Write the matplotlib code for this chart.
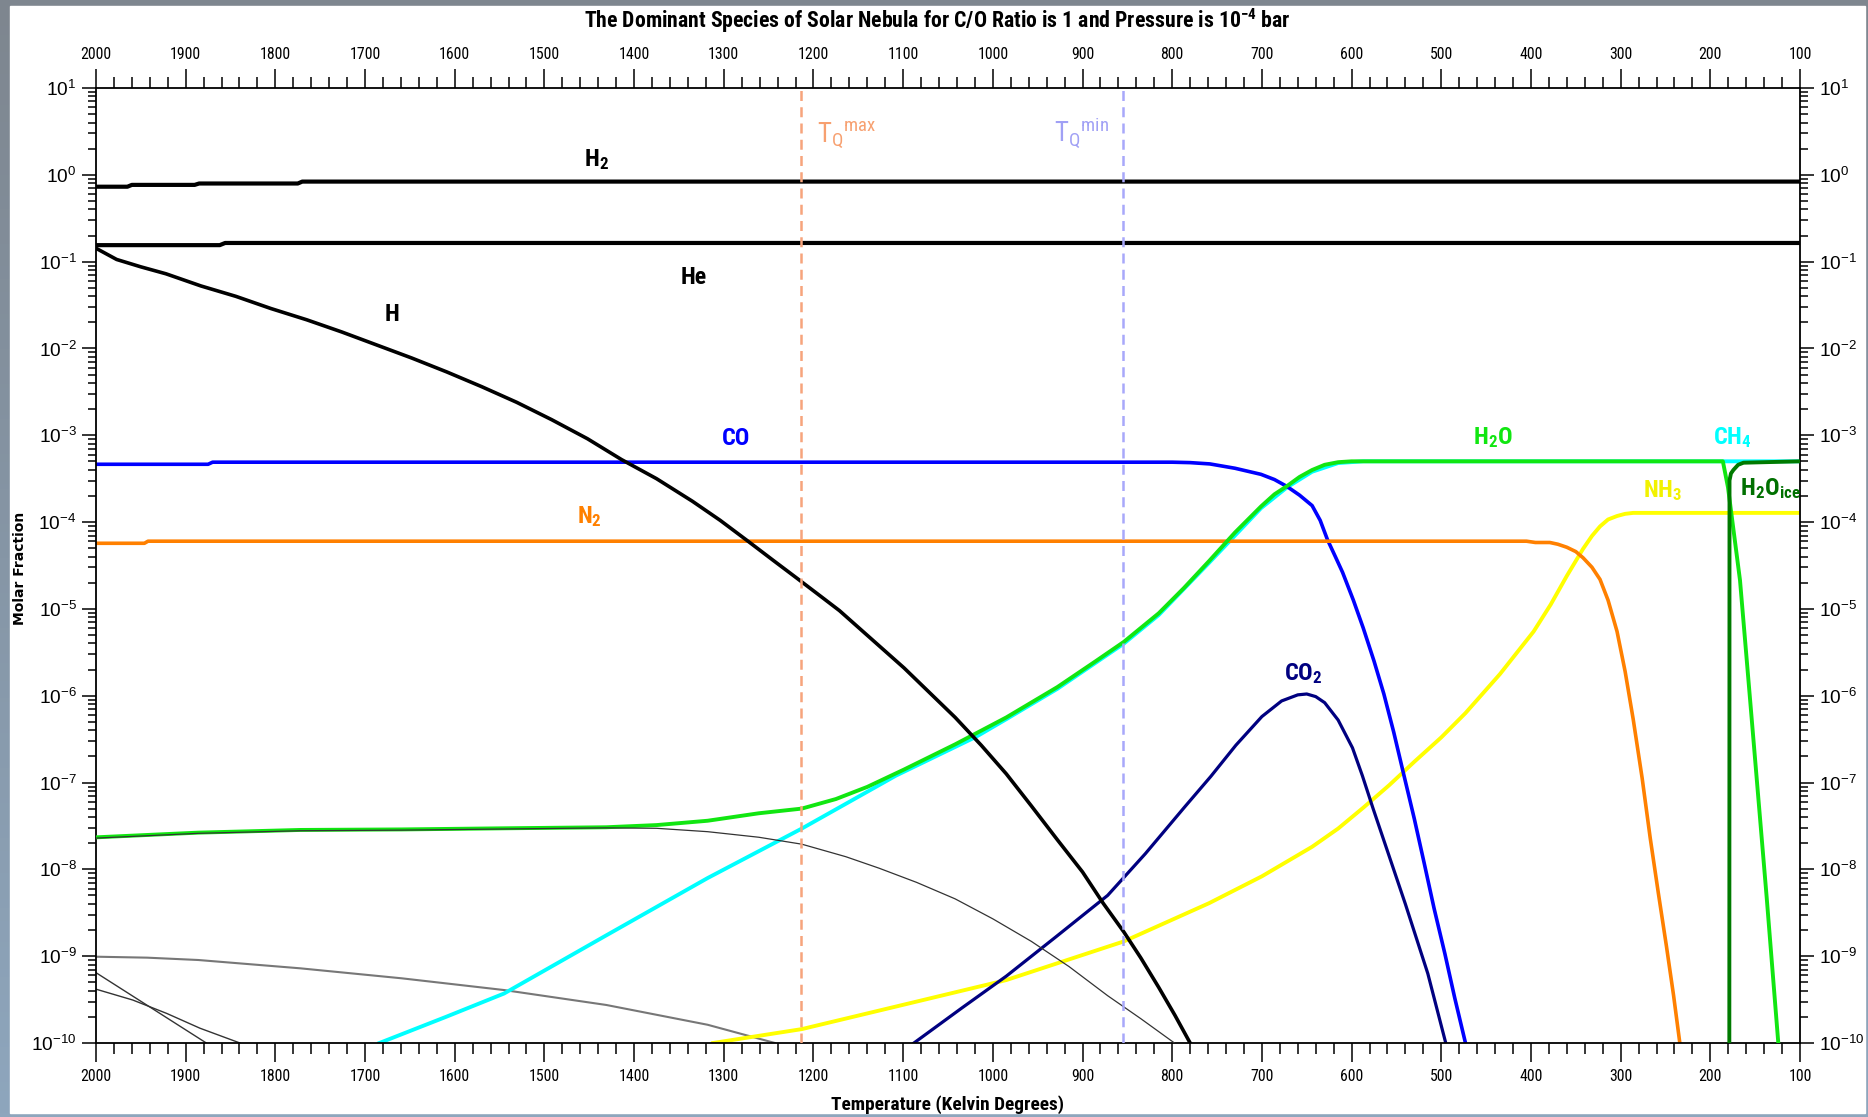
import numpy as np
import matplotlib
matplotlib.use('Agg')
import matplotlib.pyplot as plt
import matplotlib.font_manager as fm
from matplotlib.ticker import MultipleLocator, FixedLocator, FuncFormatter, NullFormatter
from matplotlib.patches import Rectangle
from matplotlib.colors import LinearSegmentedColormap

W, H = 1868, 1117
names = {f.name for f in fm.fontManager.ttflist}
NARROW = 'DejaVu Sans'
for cand in ['Liberation Sans Narrow', 'Roboto Condensed', 'Open Sans Condensed',
             'Noto Sans Condensed', 'DejaVu Sans Condensed']:
    if cand in names:
        NARROW = cand
        break
else:
    extra = sorted(n for n in names if 'Narrow' in n or 'Condensed' in n)
    if extra:
        NARROW = extra[0]
SANS = 'Liberation Sans' if 'Liberation Sans' in names else 'DejaVu Sans'
plt.rcParams['mathtext.default'] = 'regular'

# ---- data: temperature (K) and log10 of molar fraction ----
h2_T = [2000, 1965, 1960, 1890, 1885, 1775, 1770, 100]
h2_log = [-0.137, -0.137, -0.116, -0.116, -0.100, -0.100, -0.078, -0.078]

he_T = [2000, 1862, 1856, 100]
he_log = [-0.81, -0.81, -0.785, -0.785]

h_T = [2000, 1977, 1950, 1922, 1883, 1844, 1805, 1765, 1726, 1687, 1648, 1609, 1570,
       1531, 1492, 1452, 1414, 1375, 1335, 1304, 1273, 1245, 1218, 1190, 1171, 1135,
       1099, 1070, 1042, 1013, 985, 957, 928, 900, 877, 854, 835, 815, 797, 780]
h_log = [-0.846, -0.975, -1.06, -1.14, -1.28, -1.40, -1.54, -1.67, -1.81, -1.96, -2.11,
         -2.27, -2.44, -2.62, -2.82, -3.04, -3.28, -3.50, -3.76, -3.98, -4.22, -4.44,
         -4.65, -4.87, -5.02, -5.35, -5.68, -5.97, -6.25, -6.57, -6.90, -7.27, -7.66,
         -8.03, -8.39, -8.72, -9.02, -9.36, -9.68, -10.0]

co_T = [2000, 1875, 1870, 800, 780, 758, 730, 701, 686, 672, 658, 644, 635, 627, 618,
        610, 598, 587, 575, 564, 553, 542, 530, 519, 508, 496, 485, 473]
co_log = [-3.334, -3.334, -3.31, -3.31, -3.315, -3.33, -3.38, -3.45, -3.51, -3.59, -3.69,
          -3.81, -3.98, -4.20, -4.40, -4.58, -4.90, -5.22, -5.60, -5.98, -6.42, -6.90,
          -7.42, -7.93, -8.45, -8.97, -9.48, -10.0]

n2_T = [2000, 1946, 1942, 405, 395, 379, 370, 360, 350, 342, 332, 323, 314, 304, 295,
        286, 276, 267, 258, 249, 241, 234]
n2_log = [-4.244, -4.244, -4.22, -4.22, -4.235, -4.235, -4.255, -4.29, -4.34, -4.41,
          -4.52, -4.66, -4.90, -5.26, -5.72, -6.27, -6.95, -7.64, -8.27, -8.88, -9.45,
          -10.0]

h2o_T = [2000, 1886, 1772, 1659, 1545, 1431, 1375, 1318, 1261, 1213, 1175, 1140, 1099,
         1042, 985, 928, 885, 854, 815, 787, 759, 730, 701, 686, 672, 658, 644, 630,
         615, 600, 186, 180.3, 166.9, 155.7, 137.1, 124.2]
h2o_log = [-7.631, -7.577, -7.546, -7.54, -7.527, -7.515, -7.49, -7.44, -7.354, -7.30,
           -7.19, -7.05, -6.85, -6.56, -6.25, -5.90, -5.60, -5.38, -5.05, -4.76, -4.45,
           -4.12, -3.82, -3.68, -3.585, -3.48, -3.40, -3.34, -3.31, -3.30, -3.30, -3.60,
           -4.67, -6.04, -8.33, -10.0]

ch4_T = [1684, 1610, 1545, 1431, 1318, 1213, 1108, 1019, 985, 928, 854, 815, 759, 701,
         672, 644, 615, 587, 100]
ch4_log = [-10.0, -9.70, -9.43, -8.76, -8.10, -7.53, -6.92, -6.475, -6.27, -5.92, -5.40,
           -5.07, -4.47, -3.84, -3.60, -3.42, -3.32, -3.30, -3.30]

co2_T = [1088, 1035, 985, 930, 872, 830, 786, 757, 729, 700, 678, 660, 650, 640, 630,
         615, 599, 588, 576, 558, 540, 515, 495]
co2_log = [-10.0, -9.6, -9.23, -8.78, -8.30, -7.82, -7.28, -6.93, -6.57, -6.24, -6.06,
           -5.99, -5.98, -6.01, -6.08, -6.28, -6.60, -6.92, -7.30, -7.85, -8.40, -9.2,
           -10.0]

nh3_T = [1312, 1213, 1108, 985, 854, 759, 700, 644, 615, 587, 558, 530, 500, 473, 434.5,
         397, 378, 360, 342, 332, 323, 314, 304, 295, 286, 100]
nh3_log = [-10.0, -9.84, -9.58, -9.275, -8.83, -8.39, -8.08, -7.74, -7.53, -7.29, -7.03,
           -6.76, -6.48, -6.20, -5.75, -5.26, -4.95, -4.62, -4.31, -4.16, -4.05, -3.97,
           -3.93, -3.905, -3.894, -3.894]

ice_T = [178.8, 178.6, 177, 174.3, 169, 163, 100]
ice_log = [-10.0, -3.52, -3.44, -3.40, -3.34, -3.316, -3.30]

# minor species (thin grey curves)
ga_T = [2000, 1886, 1772, 1659, 1545, 1431, 1375, 1318, 1261, 1213, 1164, 1127, 1085,
        1042, 1000, 957, 915, 872, 835, 797.5]
ga_log = [-7.64, -7.585, -7.555, -7.548, -7.535, -7.522, -7.527, -7.566, -7.63, -7.71,
          -7.854, -7.986, -8.15, -8.34, -8.57, -8.83, -9.12, -9.455, -9.72, -10.0]
gb_T = [2000, 1943, 1886, 1772, 1659, 1545, 1431, 1318, 1243]
gb_log = [-9.006, -9.017, -9.044, -9.14, -9.255, -9.39, -9.562, -9.79, -10.0]
gc_T = [2000, 1877]
gc_log = [-9.19, -10.0]
gd_T = [2000, 1959, 1921, 1884, 1839.5]
gd_log = [-9.38, -9.505, -9.66, -9.83, -10.0]

tq_max = 1214
tq_min = 855
decades = np.arange(-10, 2)


def mf(lg):
    return 10.0 ** np.asarray(lg)


# ---- figure ----
fig = plt.figure(figsize=(W / 100, H / 100), dpi=100)
bg = fig.add_axes([0, 0, 1, 1], zorder=-10)
cmap = LinearSegmentedColormap.from_list('bg', ['#7e868f', '#8ea6bd'])
bg.imshow(np.linspace(0, 1, 256).reshape(-1, 1), aspect='auto', cmap=cmap,
          extent=[0, 1, 0, 1])
bg.axis('off')
fig.patches.append(Rectangle((10 / W, 1 - 1113 / H), 1855 / W, 1107 / H,
                             transform=fig.transFigure, color='white', zorder=-5))

ax = fig.add_axes([96 / W, 1 - 1043 / H, 1704 / W, 955 / H])
ax.set_yscale('log')

ax.plot(gc_T, mf(gc_log), color='#333333', lw=1.0, zorder=1)
ax.plot(gd_T, mf(gd_log), color='#333333', lw=1.0, zorder=1)
ax.plot(gb_T, mf(gb_log), color='#777777', lw=1.5, zorder=1)
ax.plot(ch4_T, mf(ch4_log), color='#00ffff', lw=2.8, zorder=2)
ax.plot(nh3_T, mf(nh3_log), color='#ffff00', lw=2.8, zorder=2)
ax.plot(co2_T, mf(co2_log), color='#000080', lw=2.3, zorder=2)
ax.plot(co_T, mf(co_log), color='#0000ff', lw=2.6, zorder=2)
ax.plot(n2_T, mf(n2_log), color='#ff8000', lw=2.6, zorder=2)
ax.plot(h2o_T, mf(h2o_log), color='#11e611', lw=2.8, zorder=3)
ax.plot(ga_T, mf(ga_log), color='#333333', lw=0.9, zorder=3)
ax.plot(ice_T, mf(ice_log), color='#007a00', lw=2.8, zorder=4)
ax.plot(h_T, mf(h_log), color='black', lw=2.6, zorder=4)
ax.plot(he_T, mf(he_log), color='black', lw=3.0, zorder=4)
ax.plot(h2_T, mf(h2_log), color='black', lw=3.0, zorder=4)

ax.axvline(tq_max, color='#f7a47c', lw=1.8, ls=(0, (4, 2.5)), zorder=5)
ax.axvline(tq_min, color='#a8a8fa', lw=1.8, ls=(0, (4, 2.5)), zorder=5)

ax.set_xlim(2000, 100)
ax.set_ylim(1e-10, 10)

renderer = fig.canvas.get_renderer()


def size_for(s, target, family, weight='normal'):
    t = fig.text(0, 0, s, fontsize=10, family=family, fontweight=weight)
    w = t.get_window_extent(renderer).width
    t.remove()
    return 10 * target / w


def fit(t, target):
    w = t.get_window_extent(renderer).width
    t.set_fontsize(t.get_fontsize() * target / w)


ax.xaxis.set_major_locator(MultipleLocator(100))
ax.xaxis.set_minor_locator(MultipleLocator(20))
ax.yaxis.set_major_locator(FixedLocator(10.0 ** decades))
ax.yaxis.set_minor_locator(FixedLocator(
    [m * 10.0 ** d for d in decades[:-1] for m in range(2, 10)]))
ax.yaxis.set_minor_formatter(NullFormatter())
ax.yaxis.set_major_formatter(FuncFormatter(lambda v, p: r'$10^{%d}$' % int(round(np.log10(v)))))

xs = size_for('2000', 31, NARROW)
ys = size_for('10', 21, SANS)
ax.tick_params(axis='x', which='both', direction='out', top=True, bottom=True,
               labeltop=True, labelbottom=True, width=1.1, labelsize=xs, pad=5,
               labelfontfamily=NARROW)
ax.tick_params(axis='x', which='major', length=13.5)
ax.tick_params(axis='x', which='minor', length=8)
ax.tick_params(axis='y', which='both', direction='out', left=True, right=True,
               labelleft=True, labelright=True, width=1.1, labelsize=ys, pad=4,
               labelfontfamily=SANS)
ax.tick_params(axis='y', which='major', length=10)
ax.tick_params(axis='y', which='minor', length=5.8)
for s in ax.spines.values():
    s.set_linewidth(1.3)

# ---- species labels ----
ls = size_for('H$_2$O', 41, NARROW, 'bold')
lab = dict(ha='left', va='baseline', fontsize=ls, fontweight='bold', family=NARROW)
ax.text(1456, 10 ** 0.106, 'H$_2$', color='black', **lab)
ax.text(1348, 10 ** -1.261, 'He', color='black', **lab)
ax.text(1678, 10 ** -1.68, 'H', color='black', **lab)
ax.text(1302, 10 ** -3.112, 'CO', color='#0000ff', **lab)
ax.text(1464, 10 ** -4.014, 'N$_2$', color='#ff8000', **lab)
ax.text(675, 10 ** -5.819, 'CO$_2$', color='#000080', **lab)
ax.text(465, 10 ** -3.105, 'H$_2$O', color='#11e611', **lab)
ax.text(197.5, 10 ** -3.1, 'CH$_4$', color='#00ffff', **lab)
ax.text(275, 10 ** -3.71, 'NH$_3$', color='#f2f200', **lab)
ax.text(167, 10 ** -3.69, 'H$_2$O$_{ice}$', color='#007000', **lab)

tq = dict(ha='left', va='baseline', fontsize=15, family=NARROW)
t1 = ax.text(1196, 10 ** 0.382, 'T$_Q{}^{max}$', color='#f7a070', **tq)
t2 = ax.text(932, 10 ** 0.382, 'T$_Q{}^{min}$', color='#a0a0f5', **tq)
fit(t1, 60)
t2.set_fontsize(t1.get_fontsize())

title = fig.text(0.502, 1 - 28 / H,
                 'The Dominant Species of Solar Nebula for C/O Ratio is 1 and Pressure is 10$^{-4}$ bar',
                 ha='center', va='baseline', fontsize=15, fontweight='bold', family=NARROW)
fit(title, 707)
xl = fig.text(947 / W, 1 - 1110 / H, 'Temperature (Kelvin Degrees)', ha='center',
              va='baseline', fontsize=15, fontweight='bold', family=NARROW)
fit(xl, 234)
yl = fig.text(20 / W, 1 - 568.5 / H, 'Molar Fraction', rotation=90, ha='center',
              va='center', fontsize=10, fontweight='bold', family='DejaVu Sans')

fig.savefig('out.png', dpi=100)
